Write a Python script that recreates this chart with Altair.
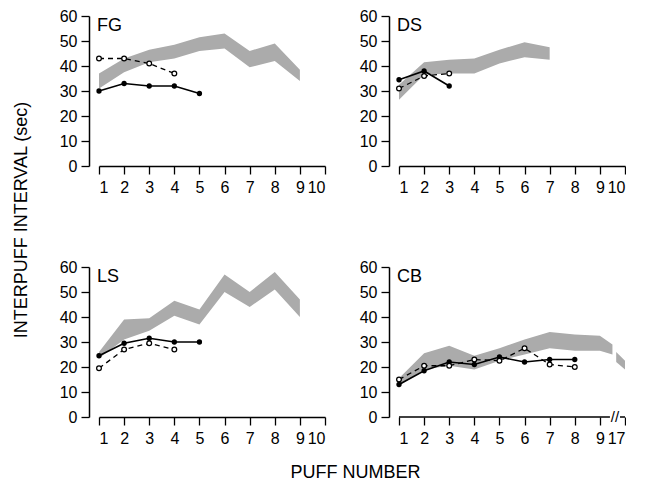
import altair as alt
import pandas as pd

FONT = "Liberation Sans"
BAND = "#ababab"

# ---- data ----
fg_band_x = [1, 2, 3, 4, 5, 6, 7, 8, 9]
fg_band_hi = [37, 43, 46.5, 48.5, 51.5, 53, 46, 49, 38.5]
fg_band_lo = [31, 37.5, 41.5, 43, 46, 47, 39.5, 42, 34]
fg_solid_x = [1, 2, 3, 4, 5]
fg_solid_y = [30, 33, 32, 32, 29]
fg_dash_x = [1, 2, 3, 4]
fg_dash_y = [43, 43, 41, 37]

ds_band_x = [1, 2, 3, 4, 5, 6, 7]
ds_band_hi = [32.5, 41.5, 42.5, 43, 46.5, 49.5, 47.5]
ds_band_lo = [26.5, 36.5, 37, 37, 41, 43.5, 42.5]
ds_solid_x = [1, 2, 3]
ds_solid_y = [34.5, 38, 32]
ds_dash_x = [1, 2, 3]
ds_dash_y = [31, 36, 37]

ls_band_x = [1, 2, 3, 4, 5, 6, 7, 8, 9]
ls_band_hi = [26, 39, 39.5, 46.5, 43, 57, 50, 58, 47]
ls_band_lo = [23.5, 31, 34.5, 40.5, 37, 50, 44, 51, 40]
ls_solid_x = [1, 2, 3, 4, 5]
ls_solid_y = [24.5, 29.5, 31.5, 30, 30]
ls_dash_x = [1, 2, 3, 4]
ls_dash_y = [19.5, 27, 29.5, 27]

# CB: axis position 10 stands for puff 17 (broken axis)
cb_band_x = [1, 2, 3, 4, 5, 6, 7, 8, 9, 9.5]
cb_band_hi = [15.5, 25.5, 28.5, 24.5, 27.5, 31, 34, 33, 32.5, 29]
cb_band_lo = [12.5, 19, 20.5, 19, 22.5, 25, 27.5, 26.5, 26.5, 25]
cb_tail_x = [9.65, 10]
cb_tail_hi = [26, 22.5]
cb_tail_lo = [22, 19]
cb_solid_x = [1, 2, 3, 4, 5, 6, 7, 8]
cb_solid_y = [13, 18.5, 22, 21, 24, 22, 23, 23]
cb_dash_x = [1, 2, 3, 4, 5, 6, 7, 8]
cb_dash_y = [15, 20.5, 20.5, 23, 22.5, 27.5, 21, 20]
cb_axis_start = [1, 9.8]
cb_axis_end = [9.4, 10]

x_ticks = [1, 2, 3, 4, 5, 6, 7, 8, 9, 10]
y_ticks = [0, 10, 20, 30, 40, 50, 60]

AXIS_STYLE = dict(labelFont=FONT, labelFontSize=16, labelColor="black",
                  tickColor="black", domainColor="black", domainWidth=1.5,
                  tickWidth=1.3, grid=False, labelOverlap=False, title=None,
                  tickSize=8)


def panel(name, band, solid, dash, cb=False):
    xscale = alt.Scale(domain=[1, 10], nice=False, zero=False)
    yscale = alt.Scale(domain=[0, 60], nice=False)
    xaxis_kw = dict(values=x_ticks, domain=not cb, labelPadding=5, **AXIS_STYLE)
    if cb:
        xaxis_kw["labelExpr"] = "datum.value == 10 ? '17' : datum.label"
    xaxis = alt.Axis(**xaxis_kw)
    yaxis = alt.Axis(values=y_ticks, offset=10, labelPadding=4, **AXIS_STYLE)

    def X(field="x"):
        return alt.X(f"{field}:Q", scale=xscale, axis=xaxis)

    def Y(field="y"):
        return alt.Y(f"{field}:Q", scale=yscale, axis=yaxis)

    band_layer = alt.Chart(band).mark_area(color=BAND, opacity=1).encode(
        x=X(), y=Y("hi"), y2="lo:Q", detail="seg:N")
    solid_line = alt.Chart(solid).mark_line(color="black", strokeWidth=1.6).encode(
        x=X(), y=Y())
    solid_pts = alt.Chart(solid).mark_point(
        filled=True, color="black", size=28, opacity=1).encode(x=X(), y=Y())
    dash_line = alt.Chart(dash).mark_line(
        color="black", strokeWidth=1.3, strokeDash=[5, 4]).encode(x=X(), y=Y())
    dash_pts = alt.Chart(dash).mark_point(
        filled=False, fill="white", stroke="black", strokeWidth=1.3, size=22,
        opacity=1).encode(x=X(), y=Y())
    label = alt.Chart(pd.DataFrame({"label": [name]})).mark_text(
        align="left", baseline="top", fontSize=18, font=FONT, color="black"
    ).encode(text="label:N", x=alt.value(-2), y=alt.value(1))

    layers = [band_layer, solid_line, dash_line, solid_pts, dash_pts, label]
    if cb:
        axis_df = pd.DataFrame({"x": cb_axis_start, "x2": cb_axis_end,
                                "y": [0, 0]})
        axis_rule = alt.Chart(axis_df).mark_rule(color="black", strokeWidth=1.5).encode(
            x=X(), x2="x2:Q", y=Y())
        brk = alt.Chart(pd.DataFrame({"t": ["//"], "x": [9.6], "y": [0]})).mark_text(
            fontSize=15, font=FONT, color="black").encode(
            x=X(), y=Y(), text="t:N")
        layers += [axis_rule, brk]
    return alt.layer(*layers).properties(width=226, height=150)


def band_df(xs, hi, lo, seg=0):
    return pd.DataFrame({"x": xs, "hi": hi, "lo": lo, "seg": [seg] * len(xs)})


def line_df(xs, ys):
    return pd.DataFrame({"x": xs, "y": ys})


fg = panel("FG", band_df(fg_band_x, fg_band_hi, fg_band_lo),
           line_df(fg_solid_x, fg_solid_y), line_df(fg_dash_x, fg_dash_y))
ds = panel("DS", band_df(ds_band_x, ds_band_hi, ds_band_lo),
           line_df(ds_solid_x, ds_solid_y), line_df(ds_dash_x, ds_dash_y))
ls = panel("LS", band_df(ls_band_x, ls_band_hi, ls_band_lo),
           line_df(ls_solid_x, ls_solid_y), line_df(ls_dash_x, ls_dash_y))
cb_band = pd.concat([band_df(cb_band_x, cb_band_hi, cb_band_lo, 0),
                     band_df(cb_tail_x, cb_tail_hi, cb_tail_lo, 1)])
cb = panel("CB", cb_band, line_df(cb_solid_x, cb_solid_y),
           line_df(cb_dash_x, cb_dash_y), cb=True)

grid = alt.vconcat(
    alt.hconcat(fg, ds, spacing=33),
    alt.hconcat(ls, cb, spacing=33),
    spacing=64,
    title=alt.Title("PUFF NUMBER", orient="bottom", anchor="middle",
                    font=FONT, fontSize=18, fontWeight="normal", color="black",
                    offset=18, dx=13),
)

chart = alt.hconcat(
    grid,
    title=alt.Title("INTERPUFF INTERVAL (sec)", orient="left", anchor="middle",
                    font=FONT, fontSize=18, fontWeight="normal", color="black",
                    offset=28, dx=25),
).properties(
    padding={"top": 0, "left": 5, "right": 0, "bottom": 0}
).configure_view(stroke=None)

chart.save("out.html", embed_options={"renderer": "svg", "actions": False})
